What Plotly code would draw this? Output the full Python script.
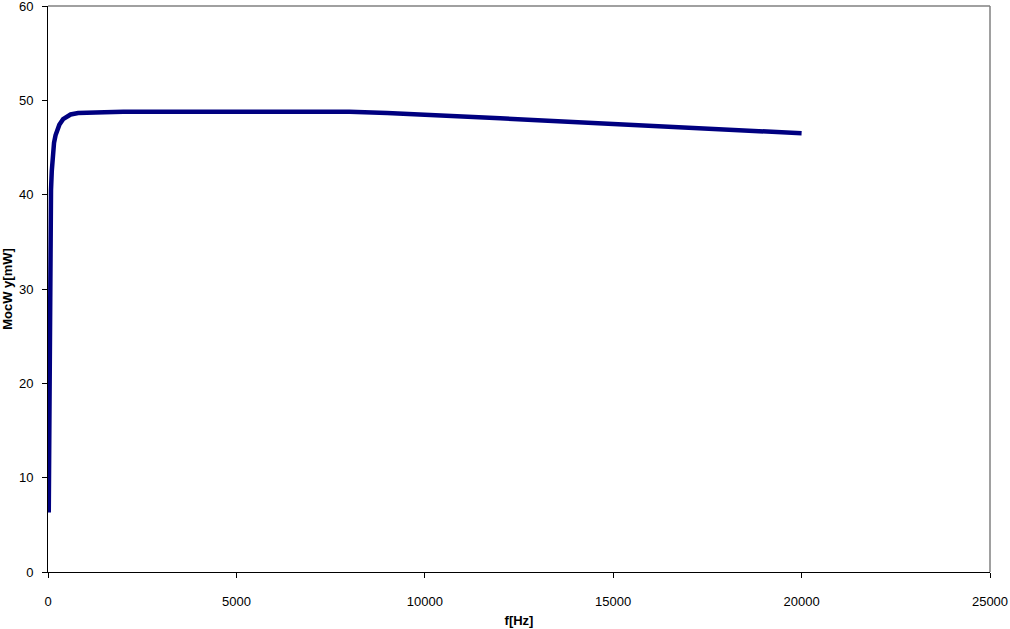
import plotly.graph_objects as go

freq_hz = [20, 30, 40, 50, 60, 70, 80, 100, 130, 160, 200, 250, 300, 400, 500, 600, 800,
           1000, 1500, 2000, 3000, 4000, 5000, 6000, 7000, 8000, 9000, 10000, 11000, 12000,
           13000, 14000, 15000, 16000, 17000, 18000, 19000, 20000]
power_mw = [6.3, 14.0, 22.0, 30.0, 34.5, 38.0, 40.5, 42.5, 44.3, 45.5, 46.3, 47.0, 47.4, 48.0,
            48.3, 48.5, 48.65, 48.7, 48.75, 48.8, 48.8, 48.8, 48.8, 48.8, 48.8, 48.8, 48.65,
            48.5, 48.35, 48.1, 47.9, 47.7, 47.5, 47.3, 47.1, 46.9, 46.7, 46.5]

x_ticks = [0, 5000, 10000, 15000, 20000, 25000]
y_ticks = [0, 10, 20, 30, 40, 50, 60]

fig = go.Figure()
fig.add_trace(go.Scatter(x=freq_hz, y=power_mw, mode="lines",
                         line=dict(color="#000080", width=4.5), showlegend=False))

font = "Liberation Sans, Arial, sans-serif"
fig.update_layout(
    width=1010, height=629,
    margin=dict(l=48, r=20, t=6, b=57),
    paper_bgcolor="white", plot_bgcolor="white",
    font=dict(family=font, size=13, color="black"),
    xaxis=dict(range=[0, 25000], tickvals=x_ticks, ticktext=[str(v) for v in x_ticks],
               automargin=False, ticklabeloverflow="allow",
               showgrid=False, zeroline=False, showline=True, linecolor="black", linewidth=1,
               ticks="outside", ticklen=5, tickcolor="black", ticklabelstandoff=12,
               title=dict(text="<b>f[Hz]</b>", font=dict(size=13), standoff=8)),
    yaxis=dict(range=[0, 60], tickvals=y_ticks, showgrid=False, zeroline=False,
               automargin=False, ticklabeloverflow="allow",
               showline=True, linecolor="black", linewidth=1,
               ticks="outside", ticklen=5, tickcolor="black", ticklabelstandoff=6,
               title=dict(text="<b>MocW y[mW]</b>", font=dict(size=13), standoff=8)),
    shapes=[
        dict(type="line", xref="paper", yref="paper", x0=0, x1=1, y0=1, y1=1,
             line=dict(color="#808080", width=1.5)),
        dict(type="line", xref="paper", yref="paper", x0=1, x1=1, y0=0, y1=1,
             line=dict(color="#808080", width=1.5)),
    ],
)
fig.write_html("out.html", config={"displayModeBar": False},
               post_script="document.body.style.margin='0';document.body.style.overflow='hidden';")
